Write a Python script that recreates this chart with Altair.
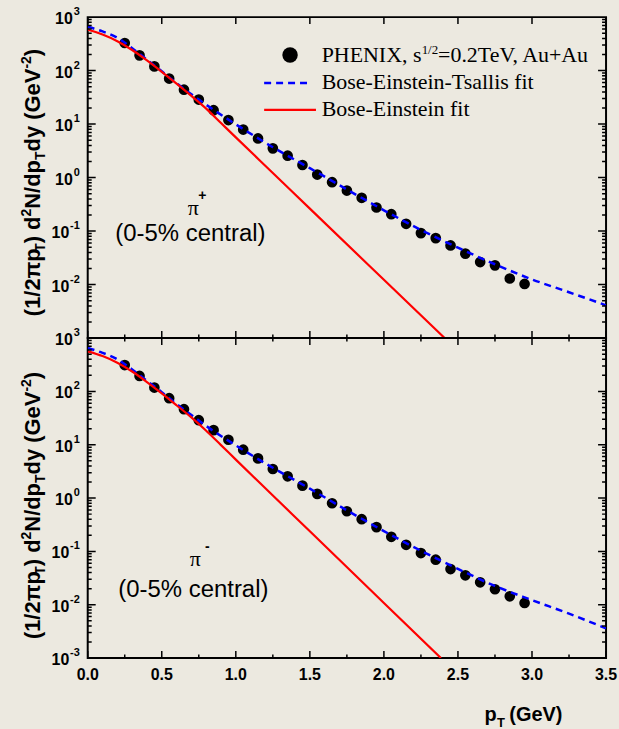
import altair as alt
import pandas as pd

# ---------------- data ----------------
PT = [0.25, 0.35, 0.45, 0.55, 0.65, 0.75, 0.85, 0.95, 1.05, 1.15, 1.25, 1.35, 1.45, 1.55,
      1.65, 1.75, 1.85, 1.95, 2.05, 2.15, 2.25, 2.35, 2.45, 2.55, 2.65, 2.75, 2.85, 2.95]
PI_PLUS = [328, 193, 120, 71, 44, 28.8, 18.2, 11.9, 7.9, 5.4, 3.52, 2.57, 1.72, 1.14,
           0.82, 0.573, 0.419, 0.276, 0.207, 0.137, 0.0917, 0.074, 0.054, 0.0379, 0.0264,
           0.0229, 0.0130, 0.0103]
PI_MINUS = [312, 195, 118, 74.7, 46.4, 28.9, 18.8, 12.4, 8.07, 5.55, 3.51, 2.56, 1.71, 1.20,
            0.80, 0.566, 0.402, 0.285, 0.188, 0.133, 0.093, 0.070, 0.0467, 0.0356, 0.0263,
            0.0195, 0.0144, 0.0108]

FIT_PT = [0.0, 0.1, 0.2, 0.3, 0.4, 0.5, 0.6, 0.7, 0.8, 1.0, 1.25, 1.5, 1.75, 2.0, 2.25,
          2.5, 2.75, 3.0, 3.25, 3.5]
BET_PLUS = [660, 540, 410, 262, 160, 97, 58, 36, 23, 9.9, 3.7, 1.5, 0.60, 0.245, 0.105,
            0.049, 0.024, 0.0125, 0.0072, 0.0041]
BET_MINUS = [650, 530, 400, 258, 158, 97, 58, 36, 22.5, 9.7, 3.7, 1.5, 0.59, 0.24, 0.103,
             0.047, 0.0225, 0.0122, 0.0068, 0.0036]

BE_PT_PLUS = [0.0, 0.1, 0.2, 0.3, 0.4, 0.5, 0.6, 0.7, 0.8, 0.9, 1.0, 1.25, 1.5, 2.0, 2.41]
BE_PLUS = [580, 473, 355, 243, 155, 95, 56.9, 33.6, 19.5, 10.5, 5.65, 1.22, 0.263, 0.0123, 0.001]
BE_PT_MINUS = [0.0, 0.1, 0.2, 0.3, 0.4, 0.5, 0.6, 0.7, 0.8, 0.9, 1.0, 1.25, 1.5, 2.0, 2.385]
BE_MINUS = [565, 460, 345, 236, 150, 92, 55, 32.5, 18.3, 9.85, 5.26, 1.12, 0.238, 0.0108, 0.001]

X_MAJOR = [0.0, 0.5, 1.0, 1.5, 2.0, 2.5, 3.0, 3.5]
X_LABELS = ["0.0", "0.5", "1.0", "1.5", "2.0", "2.5", "3.0", "3.5"]
X_MINOR = [0.25, 0.75, 1.25, 1.75, 2.25, 2.75, 3.25]
Y_NEG = [0.001, 0.01, 0.1]
Y_NEG_EXP = ["-3", "-2", "-1"]
Y_POS = [1, 10, 100, 1000]
Y_POS_EXP = ["0", "1", "2", "3"]
Y_MAJOR = Y_NEG + Y_POS
Y_MINOR = [k * 10.0 ** e for e in range(-3, 3) for k in range(2, 10)]

# ---------------- layout / style ----------------
W, H1, H2 = 520, 322, 321
BG = "#ECE9E0"
SANS = "Liberation Sans"
SERIF = "Liberation Serif"

xs = alt.Scale(domain=[0, 3.5], nice=False, zero=False)
ys = alt.Scale(type="log", domain=[0.001, 1000], nice=False)

one = pd.DataFrame({"a": [0]})


def txt(s, x, y, size, font=SANS, weight="normal", align="left", baseline="alphabetic", angle=None):
    kw = dict(text=s, font=font, fontSize=size, fontWeight=weight, align=align,
              baseline=baseline, color="black")
    if angle is not None:
        kw["angle"] = angle
    return alt.Chart(one).mark_text(**kw).encode(x=alt.value(x), y=alt.value(y))


AB = {'(': 333, ')': 333, '1': 556, '/': 278, '2': 556, '\u03c0': 600, 'p': 611, 'T': 611,
      ' ': 278, 'd': 611, 'N': 722, 'y': 556, 'G': 778, 'e': 556, 'V': 667, '-': 333}


def tw(s, fs):
    return sum(AB[c] for c in s) * fs / 1000.0


TITLE_PIECES = [("(1/2\u03c0p", "n"), ("T", "sub"), (") d", "n"), ("2", "sup"), ("N/dp", "n"),
                ("T", "sub"), ("dy (GeV", "n"), ("-2", "sup"), (")", "n")]


def ytitle(cx, ystart, F):
    sF = round(F * 0.62)
    pos = ystart
    out = []
    for t, k in TITLE_PIECES:
        fs = F if k == "n" else sF
        xx = cx + (F * 0.25 if k == "sub" else (-F * 0.42 if k == "sup" else 0))
        out.append(txt(t, xx, pos, fs, weight="bold", angle=270))
        pos -= tw(t, fs)
    return out


def yticks(xpos, values, length):
    df = pd.DataFrame({"y": values})
    return alt.Chart(df).mark_tick(orient="horizontal", clip=True, size=2 * length,
                                   thickness=1.5, color="black", opacity=1).encode(
        y=alt.Y("y:Q", scale=ys, axis=None), x=alt.value(xpos))


def xticks(ypos, values, length):
    df = pd.DataFrame({"x": values})
    return alt.Chart(df).mark_tick(orient="vertical", clip=True, size=2 * length,
                                   thickness=1.5, color="black", opacity=1).encode(
        x=alt.X("x:Q", scale=xs, axis=None), y=alt.value(ypos))


def ylabel_group(values, exps, base_dx):
    df = pd.DataFrame({"y": values, "e": exps, "b": ["10"] * len(values)})
    base = alt.Chart(df).mark_text(align="right", baseline="middle", dx=base_dx, dy=2, font=SANS,
                                   fontWeight="bold", fontSize=16, color="black").encode(
        y=alt.Y("y:Q", scale=ys, axis=None), x=alt.value(0), text="b:N")
    sup = alt.Chart(df).mark_text(align="right", baseline="middle", dx=-8, dy=-5, font=SANS,
                                  fontWeight="bold", fontSize=11, color="black").encode(
        y=alt.Y("y:Q", scale=ys, axis=None), x=alt.value(0), text="e:N")
    return [base, sup]


def xlabels(H):
    df = pd.DataFrame({"x": X_MAJOR, "lab": X_LABELS})
    return alt.Chart(df).mark_text(align="center", baseline="top", dy=9, font=SANS,
                                   fontWeight="bold", fontSize=16, color="black").encode(
        x=alt.X("x:Q", scale=xs, axis=None), y=alt.value(H), text="lab:N")


def panel(vals, bet, be_pt, be, H, bottom):
    pts = pd.DataFrame({"x": PT, "y": vals})
    points = alt.Chart(pts).mark_circle(size=115, color="black", opacity=1).encode(
        x=alt.X("x:Q", scale=xs, axis=None), y=alt.Y("y:Q", scale=ys, axis=None))
    blue = alt.Chart(pd.DataFrame({"x": FIT_PT, "y": bet})).mark_line(
        clip=True, color="#0000FF", strokeWidth=2.5, strokeDash=[7, 5], interpolate="monotone").encode(
        x=alt.X("x:Q", scale=xs, axis=None), y=alt.Y("y:Q", scale=ys, axis=None))
    red = alt.Chart(pd.DataFrame({"x": be_pt, "y": be})).mark_line(
        clip=True, color="#FF0000", strokeWidth=2.2, interpolate="monotone").encode(
        x=alt.X("x:Q", scale=xs, axis=None), y=alt.Y("y:Q", scale=ys, axis=None))
    layers = [points, blue, red,
              yticks(0, Y_MAJOR, 8), yticks(0, Y_MINOR, 4),
              yticks(W, Y_MAJOR, 8), yticks(W, Y_MINOR, 4),
              xticks(H, X_MAJOR, 7), xticks(H, X_MINOR, 3.5)]
    layers += ylabel_group(Y_POS, Y_POS_EXP, -15)
    if bottom:
        layers += ylabel_group(Y_NEG, Y_NEG_EXP, -18.5)
        layers += [xlabels(H)]
        layers += [xticks(0, X_MAJOR, 7), xticks(0, X_MINOR, 3.5)]
        layers += ytitle(-48, 302, 22)
        layers += [txt("\u03c0", 108, 229, 22, font=SERIF, align="center"),
                   txt("-", 120, 214, 14, weight="bold", align="center"),
                   txt("(0-5% central)", 106, 260, 24, align="center"),
                   txt("p", 398, 384, 20, weight="bold"),
                   txt("T", 410.5, 390, 13, weight="bold"),
                   txt("(GeV)", 423, 384, 20, weight="bold"),
                   alt.Chart(one).mark_rect(opacity=0).encode(
                       x=alt.value(-87), x2=alt.value(532), y=alt.value(0), y2=alt.value(392))]
    else:
        layers += ylabel_group(Y_NEG[1:], Y_NEG_EXP[1:], -18.5)
        layers += [xticks(0, X_MAJOR, 7)]
        layers += ytitle(-48, 300, 22)
        layers += [txt("\u03c0", 106, 199, 22, font=SERIF, align="center"),
                   txt("+", 115, 183, 14, weight="bold", align="center"),
                   txt("(0-5% central)", 103, 225, 24, align="center"),
                   # legend
                   alt.Chart(one).mark_point(filled=True, size=240, color="black", opacity=1).encode(
                       x=alt.value(203), y=alt.value(38)),
                   txt("PHENIX, s", 234.7, 45, 22, font=SERIF),
                   txt("1/2", 335, 37, 13, font=SERIF),
                   txt("=0.2TeV, Au+Au", 351.5, 45, 22, font=SERIF),
                   alt.Chart(one).mark_rule(color="#0000FF", strokeWidth=2.5, strokeDash=[7, 5]).encode(
                       x=alt.value(177), x2=alt.value(221), y=alt.value(66)),
                   txt("Bose-Einstein-Tsallis fit", 234.7, 72, 22, font=SERIF),
                   alt.Chart(one).mark_rule(color="#FF0000", strokeWidth=2.2).encode(
                       x=alt.value(177), x2=alt.value(229), y=alt.value(93)),
                   txt("Bose-Einstein fit", 234.7, 99.5, 22, font=SERIF),
                   alt.Chart(one).mark_rect(opacity=0).encode(
                       x=alt.value(-87), x2=alt.value(532), y=alt.value(-15), y2=alt.value(H))]
    return alt.layer(*layers).properties(width=W, height=H)


top = panel(PI_PLUS, BET_PLUS, BE_PT_PLUS, BE_PLUS, H1, False)
bot = panel(PI_MINUS, BET_MINUS, BE_PT_MINUS, BE_MINUS, H2, True)

chart = alt.vconcat(top, bot, spacing=0, bounds="flush").properties(
    padding=0, background=BG
).configure_view(stroke="black", strokeWidth=2)

chart.save("out.html", embed_options={"renderer": "svg", "actions": False})
